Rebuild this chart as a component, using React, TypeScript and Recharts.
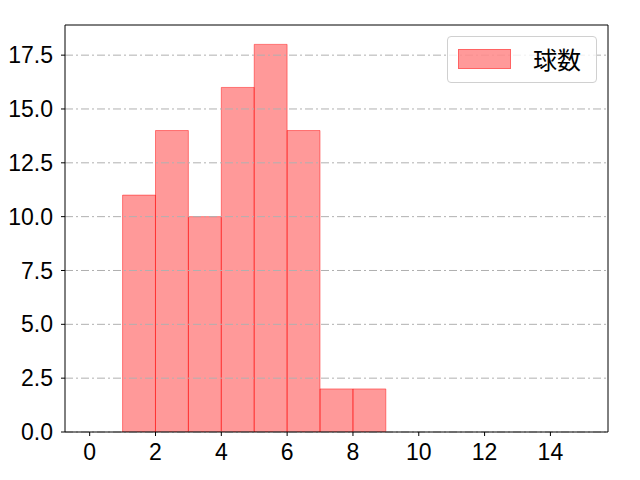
import React from "react";
import { ComposedChart, Bar, XAxis, YAxis, ReferenceLine } from "recharts";

const binCenters = [1.5, 2.5, 3.5, 4.5, 5.5, 6.5, 7.5, 8.5];
const counts = [11, 14, 10, 16, 18, 14, 2, 2];
const xTicks = [0, 2, 4, 6, 8, 10, 12, 14];
const yTicks = [0, 2.5, 5, 7.5, 10, 12.5, 15, 17.5];
const seriesName = "球数";

const data = binCenters.map((x, i) => ({ x, count: counts[i] }));

const FONT = "'Noto Sans CJK JP', 'DejaVu Sans', sans-serif";
const TICK_FAMILY = "'Liberation Sans', Arial, sans-serif";
const TICK_FONT = 23;

const LegendBox = () => (
  <div
    style={{
      position: "absolute",
      left: 447,
      top: 36,
      width: 150,
      height: 47,
      border: "1px solid #d0d0d0",
      borderRadius: 4,
      background: "rgba(255,255,255,0.8)",
      boxSizing: "border-box",
      fontFamily: FONT,
    }}
  >
    <div
      style={{
        position: "absolute",
        left: 10,
        top: 12,
        width: 53,
        height: 20,
        background: "rgba(255,0,0,0.4)",
        border: "1px solid rgba(255,0,0,0.35)",
        boxSizing: "border-box",
      }}
    />
    <span
      style={{
        position: "absolute",
        left: 85,
        top: 6,
        fontSize: 24,
        lineHeight: "32px",
        fontWeight: 400,
        color: "#000",
        whiteSpace: "nowrap",
      }}
    >
      {seriesName}
    </span>
  </div>
);

export default function App() {
  return (
    <div style={{ position: "absolute", left: 0, top: 0, width: 640, height: 480, background: "#fff" }}>
      <ComposedChart
        width={640}
        height={480}
        data={data}
        margin={{ top: 25, right: 32, bottom: 0, left: 0 }}
      >
        <XAxis
          dataKey="x"
          type="number"
          domain={[-0.75, 15.75]}
          ticks={xTicks}
          allowDataOverflow
          height={48}
          tickSize={4}
          tickMargin={8}
          tick={{ fill: "#000", fontSize: TICK_FONT, fontFamily: TICK_FAMILY, fontWeight: 400 }}
          tickLine={{ stroke: "#000" }}
          axisLine={{ stroke: "#000" }}
        />
        <YAxis
          type="number"
          domain={[0, 18.9]}
          ticks={yTicks}
          allowDataOverflow
          width={65}
          tickSize={4}
          tickMargin={8}
          tickFormatter={(v: number) => v.toFixed(1)}
          tick={{ fill: "#000", fontSize: TICK_FONT, fontFamily: TICK_FAMILY, fontWeight: 400 }}
          tickLine={{ stroke: "#000" }}
          axisLine={{ stroke: "#000" }}
        />
        <Bar
          dataKey="count"
          name={seriesName}
          barSize={32.86}
          fill="#ff0000"
          fillOpacity={0.4}
          stroke="#ff0000"
          strokeOpacity={0.45}
          isAnimationActive={false}
        />
        {yTicks.map((y) => (
          <ReferenceLine
            key={y}
            y={y}
            stroke="#b0b0b0"
            strokeWidth={1}
            strokeDasharray="8 3 2 3"
          />
        ))}
        <ReferenceLine x={15.75} stroke="#000" />
        <ReferenceLine y={18.9} stroke="#000" />
      </ComposedChart>
      <LegendBox />
    </div>
  );
}
